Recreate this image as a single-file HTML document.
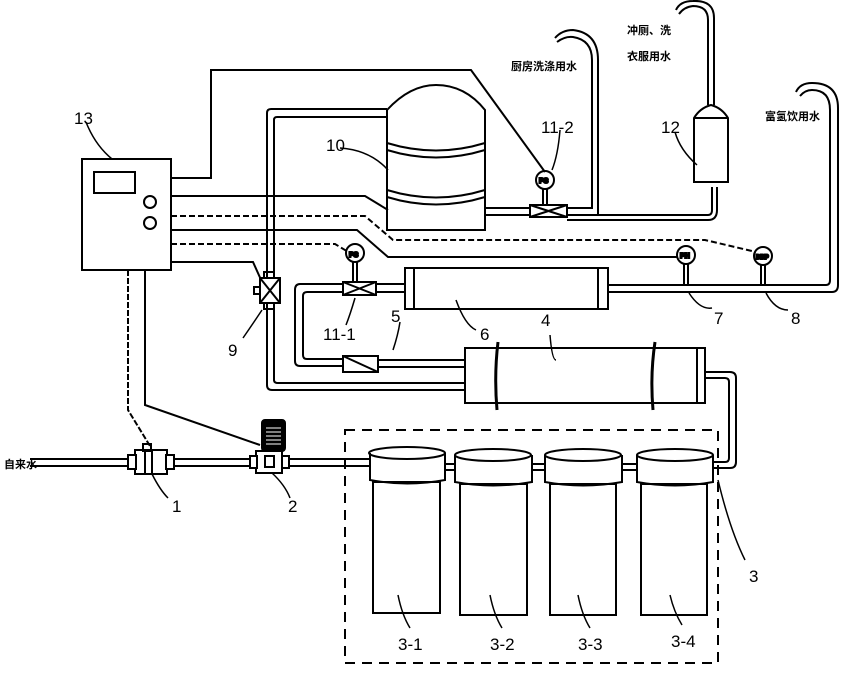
<!DOCTYPE html>
<html><head><meta charset="utf-8"><style>
html,body{margin:0;padding:0;background:#fff;}
svg{display:block;}
text{font-family:"Liberation Sans","Noto Sans CJK SC",sans-serif;fill:#000;}
.n{font-size:17px;}
.c{font-size:11px;font-weight:bold;}
</style></head><body>
<svg width="853" height="673" viewBox="0 0 853 673" xmlns="http://www.w3.org/2000/svg" fill="none" stroke="#000" stroke-width="2">
<!-- control box 13 -->
<rect x="82" y="159" width="89" height="111"/>
<rect x="94" y="172" width="41" height="21"/>
<circle cx="150" cy="202" r="6"/><circle cx="150" cy="223" r="6"/>
<path d="M86 122 Q95 145 112 159" stroke-width="1.5"/>
<!-- wires -->
<path d="M171 178 H211 V70 H471 L545 172"/>
<path d="M171 196 H365 L388 210"/>
<path d="M171 216 H365 L393 240 H705 L756 252" stroke-dasharray="6 3"/>
<path d="M171 230 H357 L388 257 H678"/>
<path d="M171 244 H335 L350 253" stroke-dasharray="6 3"/>
<path d="M171 262 H253 L262 282"/>
<path d="M128 270 V410 L150 446" stroke-dasharray="6 2"/>
<path d="M145 270 V405 L260 445"/>
<!-- tank 10 -->
<path d="M387 230 V110 Q410 85 436 85 Q465 85 485 110 V230 Z"/>
<path d="M387 143 Q436 158 485 143 M387 150 Q436 165 485 150"/>
<path d="M387 190 Q436 205 485 190 M387 197 Q436 212 485 197"/>
<path d="M340 148 Q370 150 388 170" stroke-width="1.5"/>
<!-- pipe tank -> valve 9 -> membrane 4 -->
<path d="M387 109 H271 Q267 109 267 113 V385 Q267 390 272 390 H465"/>
<path d="M387 117 H277 Q274 117 274 120 V380 Q274 383 278 383 H465"/>
<rect x="260" y="278" width="20" height="25" fill="#fff"/>
<path d="M260 278 L280 303 M280 278 L260 303"/>
<rect x="254" y="287" width="6" height="7"/>
<rect x="264" y="272" width="10" height="6"/><rect x="264" y="303" width="10" height="6"/>
<path d="M262 310 Q252 325 243 338" stroke-width="1.5"/>
<!-- membrane 6 -->
<rect x="405" y="268" width="203" height="41"/>
<path d="M414 268 V309 M598 268 V309"/>
<!-- valve 11-1 & loop -->
<path d="M405 284 H376 M405 292 H376"/>
<rect x="343" y="282" width="33" height="13"/>
<path d="M343 282 L376 295 M376 282 L343 295"/>
<circle cx="355" cy="253" r="9"/><text x="349" y="257" style="font-size:7px;font-weight:bold">PS</text>
<path d="M353 262 V282 M357 262 V282"/>
<path d="M343 284 H300 Q295 284 295 290 V361 Q295 366 300 366 H343"/>
<path d="M343 292 H307 Q303 292 303 296 V355 Q303 359 307 359 H343"/>
<rect x="343" y="356" width="35" height="16"/>
<path d="M343 356 L378 372"/>
<path d="M378 360 H465 M378 367 H465"/>
<path d="M355 298 Q350 315 346 325" stroke-width="1.5"/>
<path d="M400 322 Q398 335 393 350" stroke-width="1.5"/>
<!-- membrane 4 -->
<rect x="465" y="348" width="240" height="55"/>
<path d="M697 348 V403"/>
<path d="M498 342 Q494 375 497 410 M655 342 Q650 375 653 410" stroke-width="3"/>
<path d="M705 372 H730 Q736 372 736 378 V462 Q736 468 730 468 H713"/>
<path d="M705 378 H725 Q729 378 729 382 V458 Q729 462 725 462 H713"/>
<path d="M550 335 Q552 360 556 360" stroke-width="1.5"/>
<!-- outlet of 6 -->
<path d="M608 285 H826 Q830 285 830 280 V110 Q830 90 812 90 Q805 90 800 96"/>
<path d="M608 292 H832 Q838 292 838 285 V108 Q838 83 812 83 Q800 83 796 92"/>
<circle cx="686" cy="255" r="9"/><text x="680" y="258" style="font-size:7px;font-weight:bold">PH</text>
<path d="M684 264 V285 M688 264 V285"/>
<circle cx="763" cy="256" r="9"/><text x="756" y="259" style="font-size:6px;font-weight:bold">DBP</text>
<path d="M761 265 V285 M765 265 V285"/>
<path d="M689 293 Q700 310 712 308" stroke-width="1.5"/>
<path d="M766 293 Q775 310 788 310" stroke-width="1.5"/>
<path d="M456 300 Q465 325 476 330" stroke-width="1.5"/>
<!-- 11-2 -->
<circle cx="545" cy="180" r="9"/><text x="539" y="183" style="font-size:7px;font-weight:bold">PS</text>
<path d="M543 189 V205 M547 189 V205"/>
<rect x="530" y="205" width="37" height="12"/>
<path d="M530 205 L567 217 M567 205 L530 217"/>
<path d="M485 208 H530 M485 215 H530"/>
<path d="M567 208 H592 V60 Q592 40 573 37 Q565 36 557 42"/>
<path d="M567 215 H708 Q712 215 712 210 V187"/>
<path d="M598 215 V60 Q598 33 573 30 Q562 30 555 38"/>
<path d="M717 187 V210 Q717 220 708 220 H567"/>
<path d="M560 130 Q558 155 552 170" stroke-width="1.5"/>
<!-- 12 -->
<path d="M694 182 V118 Q700 108 711 105 Q722 108 728 118 V182 Z"/>
<path d="M694 118 H728"/>
<path d="M708 105 V20 Q708 6 693 6 Q684 7 679 14"/>
<path d="M714 105 V18 Q714 0 693 1 Q680 1 676 10"/>
<path d="M675 132 Q680 150 697 165" stroke-width="1.5"/>
<!-- inlet -->
<path d="M30 459 H250 M30 466 H250 M288 459 H370 M288 466 H370"/>
<rect x="135" y="450" width="32" height="24" fill="#fff"/>
<rect x="128" y="455" width="8" height="14" fill="#fff"/><rect x="166" y="455" width="8" height="14" fill="#fff"/>
<path d="M145 450 V474 M152 450 V474"/>
<rect x="143" y="444" width="8" height="7"/>
<path d="M152 474 Q160 490 168 498" stroke-width="1.5"/>
<rect x="256" y="451" width="26" height="22" fill="#fff"/>
<rect x="250" y="456" width="7" height="12" fill="#fff"/><rect x="282" y="456" width="7" height="12" fill="#fff"/>
<rect x="265" y="456" width="9" height="11"/>
<rect x="262" y="420" width="23" height="31" rx="3" fill="#000"/>
<path d="M266 428 H281 M266 432 H281 M266 436 H281 M266 440 H281 M266 444 H281" stroke="#fff" stroke-width="1"/>
<path d="M272 473 Q285 485 290 498" stroke-width="1.5"/>
<!-- filter group -->
<rect x="345" y="430" width="373" height="233" stroke-dasharray="10 7"/>
<path d="M718 480 Q730 530 745 560" stroke-width="1.5"/>
<g>
<rect x="373" y="482" width="67" height="131"/>
<path d="M370 453 V480 Q407 487 445 480 V453"/><ellipse cx="407" cy="453" rx="38" ry="6"/>
<rect x="460" y="484" width="67" height="131"/>
<path d="M455 455 V482 Q493 489 532 482 V455"/><ellipse cx="493" cy="455" rx="38" ry="6"/>
<rect x="550" y="484" width="66" height="131"/>
<path d="M545 455 V482 Q583 489 622 482 V455"/><ellipse cx="583" cy="455" rx="38" ry="6"/>
<rect x="641" y="484" width="66" height="131"/>
<path d="M637 455 V482 Q675 489 713 482 V455"/><ellipse cx="675" cy="455" rx="38" ry="6"/>
<path d="M445 464 H455 M445 470 H455 M532 464 H545 M532 470 H545 M622 464 H637 M622 470 H637"/>
<path d="M398 595 Q402 615 410 628 M490 595 Q494 615 502 628 M578 595 Q582 615 590 628 M670 595 Q674 612 682 625" stroke-width="1.5"/>
</g>
<!-- labels -->
<g stroke="none">
<text class="n" x="74" y="124">13</text>
<text class="n" x="326" y="151">10</text>
<text class="n" x="541" y="133">11-2</text>
<text class="n" x="661" y="133">12</text>
<text class="n" x="228" y="356">9</text>
<text class="n" x="323" y="340">11-1</text>
<text class="n" x="391" y="322">5</text>
<text class="n" x="480" y="340">6</text>
<text class="n" x="541" y="326">4</text>
<text class="n" x="714" y="324">7</text>
<text class="n" x="791" y="324">8</text>
<text class="n" x="172" y="512">1</text>
<text class="n" x="288" y="512">2</text>
<text class="n" x="749" y="582">3</text>
<text class="n" x="398" y="650">3-1</text>
<text class="n" x="490" y="650">3-2</text>
<text class="n" x="578" y="650">3-3</text>
<text class="n" x="671" y="647">3-4</text>
<text class="c" x="4" y="468">自来水</text>
<text class="c" x="511" y="70">厨房洗涤用水</text>
<text class="c" x="627" y="34">冲厕、洗</text>
<text class="c" x="627" y="60">衣服用水</text>
<text class="c" x="765" y="120">富氢饮用水</text>
</g>
</svg>
</body></html>
